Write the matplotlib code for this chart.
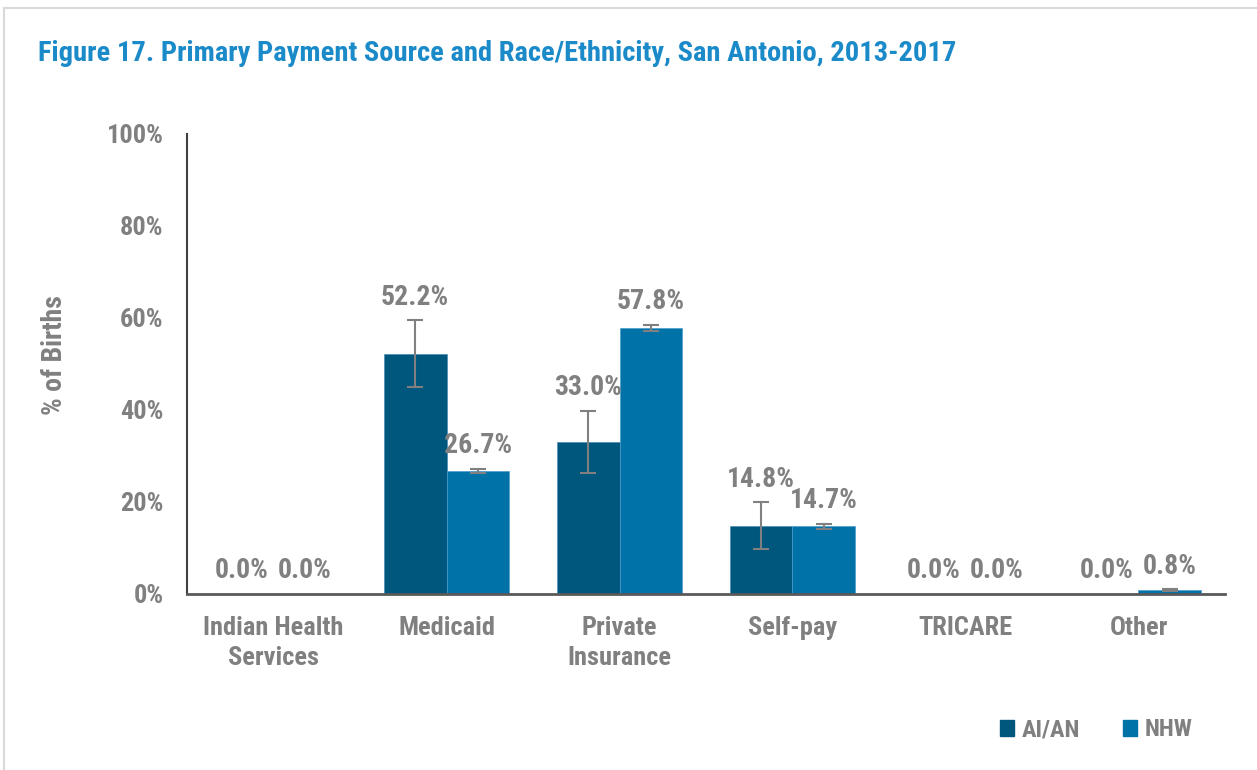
import numpy as np
import matplotlib
matplotlib.use("Agg")
import matplotlib.pyplot as plt
from matplotlib.patches import Rectangle, Patch

plt.rcParams['font.family'] = ['Roboto Condensed', 'Archivo Narrow', 'DejaVu Sans']
plt.rcParams['font.weight'] = 'bold'

# data
categories = ["Indian Health\nServices", "Medicaid", "Private\nInsurance", "Self-pay", "TRICARE", "Other"]
aian = [0.0, 52.2, 33.0, 14.8, 0.0, 0.0]
aian_err = [0.0, 7.3, 6.8, 5.1, 0.0, 0.0]
nhw = [0.0, 26.7, 57.8, 14.7, 0.0, 0.8]
nhw_err = [0.0, 0.5, 0.7, 0.5, 0.0, 0.2]

c_aian = "#00577D"
c_nhw = "#0072A8"
grey = "#808080"

fig = plt.figure(figsize=(12.57, 7.7), dpi=100)
# light frame like the source slide
fig.patches.append(Rectangle((0.003, -0.01), 1.1, 0.999, transform=fig.transFigure,
                             fill=False, edgecolor="#d9d9d9", linewidth=1.5))
ax = fig.add_axes([0.1488, 0.2286, 0.8257, 0.5974])

x = np.arange(len(categories))
w = 0.364
ax.bar(x - w/2, aian, w, color=c_aian, edgecolor="#4a8db5", linewidth=0.5, label="AI/AN", zorder=2)
ax.bar(x + w/2, nhw, w, color=c_nhw, edgecolor="#4a9ccc", linewidth=0.5, label="NHW", zorder=2)

# error bars only where there is a value
for xs, vals, errs in [(x - w/2, aian, aian_err), (x + w/2, nhw, nhw_err)]:
    for xi, v, e in zip(xs, vals, errs):
        if v > 0:
            ax.errorbar(xi, v, yerr=e, fmt="none", ecolor=grey, elinewidth=1.5,
                        capsize=6, capthick=1.5, zorder=3)
        ax.annotate(f"{v:.1f}%", (xi, v + e), xytext=(0, 7), textcoords="offset points",
                    ha="center", va="bottom", fontsize=20, color=grey, fontweight="bold")

ax.set_xlim(-0.5, len(categories) - 0.5)
ax.set_ylim(0, 100)
ax.set_yticks(np.arange(0, 101, 20))
ax.set_yticklabels([f"{t}%" for t in range(0, 101, 20)])
ax.set_xticks(x)
ax.set_xticklabels(categories, linespacing=1.28)
ax.tick_params(axis="both", length=0, labelsize=19, labelcolor=grey)
ax.tick_params(axis="y", pad=17)
ax.tick_params(axis="x", pad=16)
for s in ["top", "right"]:
    ax.spines[s].set_visible(False)
ax.spines["left"].set_color("#404040")
ax.spines["bottom"].set_color("#595959")
ax.spines["left"].set_linewidth(1.5)
ax.spines["bottom"].set_linewidth(2)
fig.text(55 / 1257, 1 - 355 / 770, "% of Births", rotation=90, ha="center", va="center",
         fontsize=20, color=grey, fontweight="bold")

fig.text(0.030, 0.931, "Figure 17. Primary Payment Source and Race/Ethnicity, San Antonio, 2013-2017",
         fontsize=20.5, color="#1B8AC9", fontweight="bold", va="center")

handles = [Patch(color=c_aian, label="AI/AN"), Patch(color=c_nhw, label="NHW")]
leg = fig.legend(handles=handles, loc="center right", bbox_to_anchor=(0.966, 0.052), ncol=2,
                 frameon=False, fontsize=17.5, handlelength=0.6, handleheight=0.6,
                 columnspacing=1.75, handletextpad=0.3)
for t in leg.get_texts():
    t.set_color(grey)

fig.savefig("out.png", dpi=100)
